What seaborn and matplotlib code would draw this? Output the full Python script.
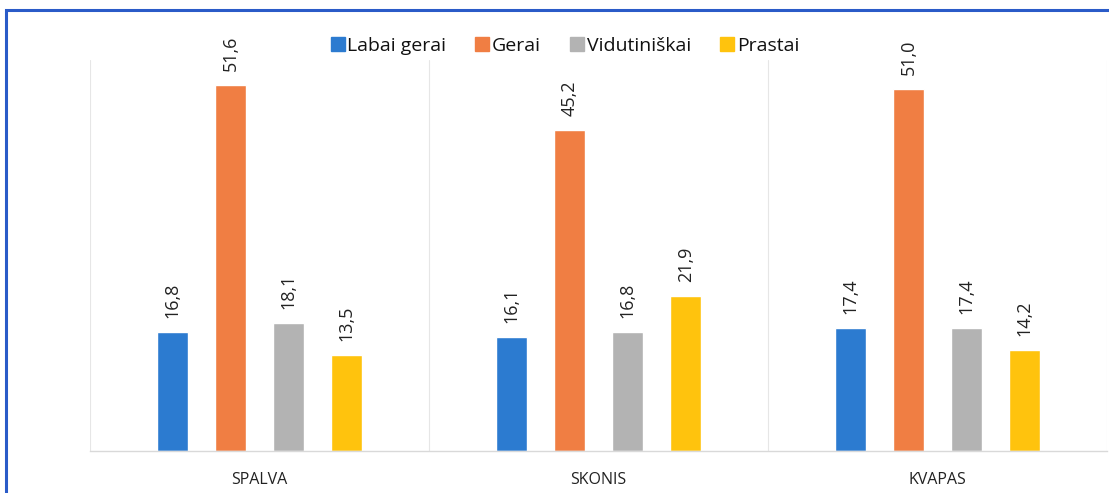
import matplotlib
matplotlib.use("Agg")
import matplotlib.pyplot as plt
import seaborn as sns
import pandas as pd
from matplotlib.patches import Rectangle
from matplotlib.lines import Line2D

categories = ["SPALVA", "SKONIS", "KVAPAS"]
series = ["Labai gerai", "Gerai", "Vidutiniškai", "Prastai"]
labai_gerai = [16.8, 16.1, 17.4]
gerai = [51.6, 45.2, 51.0]
vidutiniskai = [18.1, 16.8, 17.4]
prastai = [13.5, 21.9, 14.2]
colors = ["#2C7BD0", "#F07E43", "#B3B3B3", "#FFC30D"]

rows = []
for s, vals in zip(series, [labai_gerai, gerai, vidutiniskai, prastai]):
    for c, v in zip(categories, vals):
        rows.append({"cat": c, "series": s, "value": v})
df = pd.DataFrame(rows)

sns.set_theme(style="white")
plt.rcParams['font.family'] = ['Open Sans', 'DejaVu Sans']

fig = plt.figure(figsize=(11.09, 4.93), dpi=100)
W, H = 1109, 493
ax = fig.add_axes([90 / W, 1 - 451 / H, (1107 - 90) / W, (451 - 60) / H])

sns.barplot(data=df, x="cat", y="value", hue="series", order=categories,
            hue_order=series, palette=colors, width=0.686, gap=0.46,
            ax=ax, legend=False, saturation=1)

ax.set_ylim(0, 55.1)
ax.set_xlim(-0.5, 2.5)
ax.set_xlabel("")
ax.set_ylabel("")
ax.set_yticks([])
ax.tick_params(axis="x", length=0, pad=15, labelsize=11.5, labelcolor="#222222")
for sp in ["top", "right", "left"]:
    ax.spines[sp].set_visible(False)
ax.spines["bottom"].set_color("#D9D9D9")
ax.spines["bottom"].set_linewidth(1)
for xsep in [-0.5, 0.5, 1.5, 2.5]:
    ax.axvline(xsep, color="#E6E6E6", lw=0.8, zorder=0)

for cont in ax.containers:
    labels = [f"{b.get_height():.1f}".replace(".", ",") for b in cont]
    ax.bar_label(cont, labels=labels, rotation=90, padding=10, fontsize=13,
                 color="#222222")

handles = [Line2D([0], [0], marker="s", linestyle="", markersize=9.5,
                  markerfacecolor=c, markeredgecolor=c) for c in colors]
fig.legend(handles, series, loc="center", bbox_to_anchor=(565 / W, 1 - 46 / H),
           ncol=4, frameon=False, fontsize=14, handletextpad=0.15,
           columnspacing=1.5, handlelength=0.7, labelcolor="#111111")

fig.patches.append(Rectangle((6 / W, -0.1), 1.5, 1 - 10 / H + 0.1,
                             transform=fig.transFigure, fill=False,
                             edgecolor="#2A5BC8", lw=2.2))

fig.savefig("out.png", dpi=100)
